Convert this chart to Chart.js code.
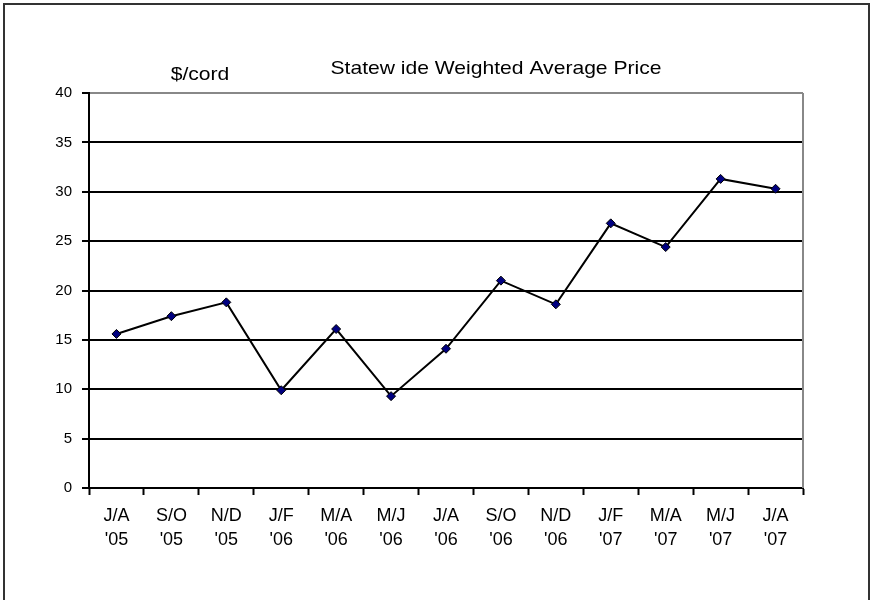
<!DOCTYPE html>
<html>
<head>
<meta charset="utf-8">
<script src="https://cdn.jsdelivr.net/npm/chart.js@4.4.1/dist/chart.umd.min.js"></script>
<style>
  html, body { margin: 0; padding: 0; background: #fff; }
  #wrap { width: 871px; height: 600px; }
</style>
</head>
<body>
<div id="wrap"><canvas id="c" width="871" height="600"></canvas></div>
<script>
// data
var months = ['J/A', 'S/O', 'N/D', 'J/F', 'M/A', 'M/J', 'J/A', 'S/O', 'N/D', 'J/F', 'M/A', 'M/J', 'J/A'];
var years = ["'05", "'05", "'05", "'06", "'06", "'06", "'06", "'06", "'06", "'07", "'07", "'07", "'07"];
var prices = [15.6, 17.4, 18.8, 9.9, 16.1, 9.3, 14.1, 21.0, 18.6, 26.8, 24.4, 31.3, 30.3];
var yTicks = [0, 5, 10, 15, 20, 25, 30, 35, 40];

var titleText = 'Statew ide Weighted Average Price';
var unitText = '$/cord';

var labels = months.map(function(m, i) { return [m, years[i]]; });

// frame, right border and the two stretched text lines
var decor = {
  id: 'decor',
  afterDraw: function(chart) {
    var ctx = chart.ctx;
    var a = chart.chartArea;
    ctx.save();
    ctx.strokeStyle = '#888';
    ctx.lineWidth = 2;
    ctx.beginPath();
    ctx.moveTo(a.right, a.top);
    ctx.lineTo(a.right, a.bottom);
    ctx.stroke();

    ctx.strokeStyle = '#333';
    ctx.lineWidth = 2;
    ctx.strokeRect(4, 4, 865, 700);

    ctx.fillStyle = '#000';
    ctx.font = '19px "Liberation Sans", Arial, sans-serif';
    ctx.textAlign = 'center';
    ctx.textBaseline = 'alphabetic';

    ctx.save();
    ctx.translate(496, 74);
    ctx.scale(1.11, 1);
    ctx.fillText(titleText, 0, 0);
    ctx.restore();

    ctx.save();
    ctx.translate(200, 80);
    ctx.scale(1.11, 1);
    ctx.fillText(unitText, 0, 0);
    ctx.restore();
    ctx.restore();
  }
};

new Chart(document.getElementById('c'), {
  type: 'line',
  data: {
    labels: labels,
    datasets: [{
      data: prices,
      borderColor: '#000',
      borderWidth: 2,
      tension: 0,
      pointStyle: 'rectRot',
      pointRadius: 4.5,
      pointBackgroundColor: '#000080',
      pointBorderColor: '#000',
      pointBorderWidth: 1
    }]
  },
  options: {
    responsive: false,
    animation: false,
    layout: { padding: { top: 93, right: 68, left: 0, bottom: 0 } },
    plugins: {
      legend: { display: false },
      title: { display: false },
      tooltip: { enabled: false }
    },
    scales: {
      x: {
        offset: true,
        afterFit: function(scale) { scale.height = 112; },
        border: { color: '#000', width: 2 },
        grid: {
          offset: true,
          drawOnChartArea: false,
          drawTicks: true,
          tickLength: 7,
          tickColor: '#000',
          tickWidth: 2
        },
        ticks: {
          color: '#000',
          padding: 9,
          maxRotation: 0,
          autoSkip: false,
          font: { family: '"Liberation Sans", Arial, sans-serif', size: 18, lineHeight: 1.33 }
        }
      },
      y: {
        min: 0,
        max: 40,
        afterFit: function(scale) { scale.width = 89; },
        afterBuildTicks: function(scale) {
          scale.ticks = yTicks.map(function(v) { return { value: v }; });
        },
        border: { color: '#000', width: 2 },
        grid: {
          color: function(c) { return c.tick && c.tick.value === 40 ? '#888' : '#000'; },
          lineWidth: 2,
          tickLength: 7,
          tickColor: '#000',
          tickWidth: 2
        },
        ticks: {
          color: '#000',
          padding: 10,
          font: { family: '"Liberation Sans", Arial, sans-serif', size: 15 }
        }
      }
    }
  },
  plugins: [decor]
});
</script>
</body>
</html>
